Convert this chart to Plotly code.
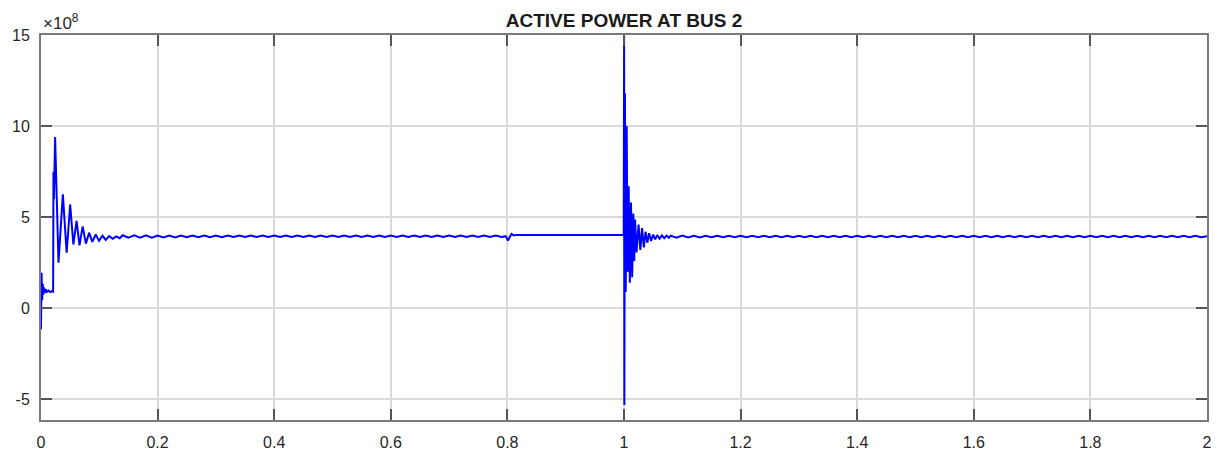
import plotly.graph_objects as go

# ---- data (active power, units of 1e8 W) ----
t_start = [0.000, 0.001, 0.002, 0.003, 0.004, 0.005, 0.0065, 0.008, 0.010, 0.013, 0.016, 0.019,
           0.0208, 0.0214, 0.0222, 0.0242, 0.0300, 0.0375, 0.0440, 0.0500, 0.0555, 0.0610,
           0.0660, 0.0715, 0.0770, 0.0825, 0.0880, 0.0940, 0.0995, 0.1055, 0.1110, 0.1170,
           0.1230, 0.1290, 0.1350]
p_start = [-1.15, 1.95, 0.45, 1.35, 0.75, 1.15, 0.85, 1.05, 0.90, 0.97, 0.88, 0.95,
           0.92, 7.5, 6.0, 9.4, 2.5, 6.25, 3.05, 5.7, 3.5, 4.8,
           3.45, 4.5, 3.55, 4.15, 3.65, 4.05, 3.7, 3.98, 3.75, 3.96,
           3.82, 3.95, 3.85]

t_steady1 = [0.14, 0.15, 0.16, 0.17, 0.18, 0.19, 0.20, 0.21, 0.22, 0.23, 0.24, 0.25, 0.26, 0.27,
             0.28, 0.29, 0.30, 0.31, 0.32, 0.33, 0.34, 0.35, 0.36, 0.37, 0.38, 0.39, 0.40, 0.41,
             0.42, 0.43, 0.44, 0.45, 0.46, 0.47, 0.48, 0.49, 0.50, 0.51, 0.52, 0.53, 0.54, 0.55,
             0.56, 0.57, 0.58, 0.59, 0.60, 0.61, 0.62, 0.63, 0.64, 0.65, 0.66, 0.67, 0.68, 0.69,
             0.70, 0.71, 0.72, 0.73, 0.74, 0.75, 0.76, 0.77, 0.78, 0.79]
p_steady1 = [4.01, 3.87, 4.00, 3.88, 4.00, 3.88, 3.99, 3.89, 3.99, 3.89, 3.99, 3.90, 3.99, 3.90,
             3.99, 3.90, 3.99, 3.90, 3.99, 3.91, 3.99, 3.91, 3.99, 3.91, 3.99, 3.91, 3.99, 3.91,
             3.99, 3.91, 3.99, 3.91, 3.99, 3.91, 3.99, 3.91, 3.99, 3.91, 3.99, 3.91, 3.99, 3.91,
             3.99, 3.91, 3.99, 3.91, 3.99, 3.91, 3.99, 3.91, 3.99, 3.91, 3.99, 3.91, 3.99, 3.91,
             3.99, 3.91, 3.99, 3.91, 3.99, 3.91, 3.99, 3.91, 3.99, 3.92]

t_step = [0.797, 0.801, 0.804, 0.807, 0.811, 0.816, 0.85, 0.90, 0.95, 0.9995]
p_step = [3.96, 3.72, 3.92, 4.08, 4.00, 4.03, 4.03, 4.03, 4.03, 4.03]

t_fault = [1.0002, 1.0006, 1.0016, 1.0030, 1.0046, 1.0062, 1.0080, 1.0100, 1.0120, 1.0140,
           1.0160, 1.0175, 1.0190, 1.0215, 1.0250, 1.0280, 1.0310, 1.0340, 1.0370, 1.0400,
           1.0430, 1.0465, 1.0500, 1.0535, 1.0570, 1.0610, 1.0650, 1.0690, 1.0730, 1.0770]
p_fault = [14.95, -5.3, 11.8, 0.9, 10.0, 2.0, 6.7, 1.4, 5.8, 1.7,
           5.2, 2.6, 4.87, 3.06, 4.6, 3.2, 4.4, 3.34, 4.2, 3.6,
           4.12, 3.7, 4.05, 3.78, 4.02, 3.82, 4.0, 3.85, 3.99, 3.87]

t_steady2 = [1.08, 1.09, 1.10, 1.11, 1.12, 1.13, 1.14, 1.15, 1.16, 1.17, 1.18, 1.19, 1.20, 1.21,
             1.22, 1.23, 1.24, 1.25, 1.26, 1.27, 1.28, 1.29, 1.30, 1.31, 1.32, 1.33, 1.34, 1.35,
             1.36, 1.37, 1.38, 1.39, 1.40, 1.41, 1.42, 1.43, 1.44, 1.45, 1.46, 1.47, 1.48, 1.49,
             1.50, 1.51, 1.52, 1.53, 1.54, 1.55, 1.56, 1.57, 1.58, 1.59, 1.60, 1.61, 1.62, 1.63,
             1.64, 1.65, 1.66, 1.67, 1.68, 1.69, 1.70, 1.71, 1.72, 1.73, 1.74, 1.75, 1.76, 1.77,
             1.78, 1.79, 1.80, 1.81, 1.82, 1.83, 1.84, 1.85, 1.86, 1.87, 1.88, 1.89, 1.90, 1.91,
             1.92, 1.93, 1.94, 1.95, 1.96, 1.97, 1.98, 1.99, 2.00]
p_steady2 = [3.99, 3.88, 3.99, 3.89, 3.98, 3.89, 3.98, 3.90, 3.98, 3.90, 3.98, 3.90, 3.98, 3.90,
             3.98, 3.90, 3.98, 3.90, 3.98, 3.90, 3.98, 3.90, 3.98, 3.90, 3.98, 3.90, 3.98, 3.90,
             3.98, 3.90, 3.98, 3.90, 3.98, 3.90, 3.98, 3.90, 3.98, 3.90, 3.98, 3.90, 3.98, 3.90,
             3.98, 3.90, 3.98, 3.90, 3.98, 3.90, 3.98, 3.90, 3.98, 3.90, 3.98, 3.90, 3.98, 3.90,
             3.98, 3.90, 3.98, 3.90, 3.98, 3.90, 3.98, 3.90, 3.98, 3.90, 3.98, 3.90, 3.98, 3.90,
             3.98, 3.90, 3.98, 3.90, 3.98, 3.90, 3.98, 3.90, 3.98, 3.90, 3.98, 3.90, 3.98, 3.90,
             3.98, 3.90, 3.98, 3.90, 3.98, 3.90, 3.98, 3.90, 3.95]

x_ticks = [0, 0.2, 0.4, 0.6, 0.8, 1, 1.2, 1.4, 1.6, 1.8, 2]
x_labels = ["0", "0.2", "0.4", "0.6", "0.8", "1", "1.2", "1.4", "1.6", "1.8", "2"]
y_ticks = [-5, 0, 5, 10, 15]
y_labels = ["-5", "0", "5", "10", "15"]

title_text = "ACTIVE POWER AT BUS 2"

t_all = t_start + t_steady1 + t_step + t_fault + t_steady2
p_all = p_start + p_steady1 + p_step + p_fault + p_steady2

FONT = "Liberation Sans, Arial, Helvetica, sans-serif"

fig = go.Figure()
fig.add_trace(go.Scatter(x=t_all, y=p_all, mode="lines",
                         line=dict(color="#0000ff", width=2), hoverinfo="skip"))

axis_common = dict(
    ticks="inside", ticklen=11, tickwidth=1.5, tickcolor="#555555",
    showline=True, linecolor="#7a7a7a", linewidth=2, mirror="ticks",
    showgrid=True, gridcolor="#dadada", gridwidth=1.5, zeroline=False,
    tickfont=dict(family=FONT, size=16, color="#262626"),
    automargin=False,
)

fig.update_xaxes(range=[0, 2], tickvals=x_ticks, ticktext=x_labels,
                 ticklabelstandoff=7, **axis_common)
fig.update_yaxes(range=[-6.13, 15], tickvals=y_ticks, ticktext=y_labels,
                 ticklabelstandoff=6, **axis_common)

fig.update_layout(
    width=1218, height=452,
    margin=dict(l=41, r=11, t=35, b=32, autoexpand=False),
    plot_bgcolor="white", paper_bgcolor="white",
    showlegend=False,
    title=dict(text="<b>" + title_text + "</b>", x=0.5, xref="paper",
               y=1 - 20.5 / 452, yref="container", yanchor="middle", xanchor="center",
               font=dict(family=FONT, size=19, color="#1a1a1a")),
)
fig.add_annotation(text="×10<sup>8</sup>", xref="paper", yref="paper", x=0, y=1,
                   xanchor="left", yanchor="bottom", showarrow=False, yshift=0,
                   font=dict(family=FONT, size=17, color="#262626"))

fig.write_html("out.html", config={"displayModeBar": False},
               post_script="document.body.style.margin='0';document.body.style.overflow='hidden';")
